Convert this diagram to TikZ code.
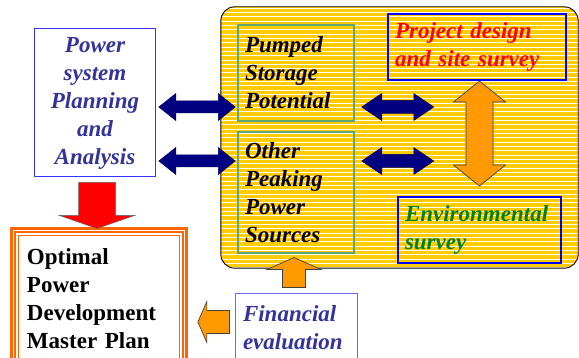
\documentclass[tikz,border=0pt]{standalone}
\usepackage{fontspec}
\setmainfont{Liberation Serif}
\usepackage{tikz}
\usetikzlibrary{calc, positioning}
\definecolor{peakyellow}{RGB}{255,204,0}
\definecolor{boxgreen}{RGB}{95,165,120}
\definecolor{plannavy}{RGB}{51,51,153}
\definecolor{arrownavy}{RGB}{0,0,128}
\definecolor{arroworange}{RGB}{255,153,0}
\definecolor{masterorange}{RGB}{255,102,0}
\definecolor{envgreen}{RGB}{0,128,0}

% block arrow: style, tail, tip, shaft half width, head half width, head length
\newcommand{\fatarrow}[6]{%
  \coordinate (fa-b) at ($(#3)!#6!(#2)$);
  \draw[#1] ($(#2)!#4!90:(#3)$) -- ($(fa-b)!#4!90:(#3)$) -- ($(fa-b)!#5!90:(#3)$) -- (#3)
    -- ($(fa-b)!#5!-90:(#3)$) -- ($(fa-b)!#4!-90:(#3)$) -- ($(#2)!#4!-90:(#3)$) -- cycle;}
% block arrow with two heads
\newcommand{\dblfatarrow}[6]{%
  \coordinate (fa-a) at ($(#2)!#6!(#3)$);
  \coordinate (fa-b) at ($(#3)!#6!(#2)$);
  \draw[#1] (#2) -- ($(fa-a)!#5!90:(#3)$) -- ($(fa-a)!#4!90:(#3)$) -- ($(fa-b)!#4!90:(#3)$)
    -- ($(fa-b)!#5!90:(#3)$) -- (#3) -- ($(fa-b)!#5!-90:(#3)$) -- ($(fa-b)!#4!-90:(#3)$)
    -- ($(fa-a)!#4!-90:(#3)$) -- ($(fa-a)!#5!-90:(#3)$) -- cycle;}

\begin{document}
\begin{tikzpicture}[x=1pt, y=-1pt,
  bigtext/.style={font=\fontsize{23}{28}\selectfont\bfseries\itshape},
  greenbox/.style={bigtext, draw=boxgreen, line width=1.5pt, align=left, inner xsep=7pt},
  bluebox/.style={bigtext, draw=blue, line width=2pt, align=left, inner xsep=7pt},
  navyarrow/.style={fill=arrownavy, draw=arrownavy!70!black, line width=0.5pt},
  orangearrow/.style={fill=arroworange, draw=black!75, line width=0.7pt},
  redarrow/.style={fill=red, draw=black!60, line width=0.5pt}]
\useasboundingbox (0,0) rectangle (579,358);

% peaking block with stripes
\node[fill=peakyellow, rounded corners=14pt, minimum width=357pt, minimum height=261pt] (peak) at (399.5,137.5) {};
\begin{scope}
  \clip[rounded corners=14pt] (peak.north west) rectangle (peak.south east);
  \foreach \i in {0,...,61}
    \draw[white, line width=0.9pt] ({200},{8+4.33*\i}) -- ({590},{8+4.33*\i});
\end{scope}
\draw[black, line width=0.9pt, rounded corners=14pt] (peak.north west) rectangle (peak.south east);

\node[greenbox, text width=102pt, minimum height=96pt] (pumped) at (296,73) {Pumped\\Storage\\Potential};
\node[greenbox, text width=102pt, minimum height=121pt] (other) at (296,192.5) {Other\\Peaking\\Power\\Sources};
\node[bluebox, red, draw=blue, text width=164pt, minimum height=66pt] (project) at (477,47) {Project design\\and site survey};
\node[bluebox, envgreen, draw=blue, text width=149pt, minimum height=66pt] (env) at (479.5,230) {Environmental\\survey};

\node[bigtext, plannavy, draw=blue!80, fill=white, line width=1pt, align=center, text width=114pt, minimum height=148pt] (plan) at (95,103) {Power\\system\\Planning\\and\\Analysis};
\node[bigtext, plannavy, draw=blue!60, fill=white, line width=1pt, align=left, inner xsep=8pt, text width=106pt, minimum height=68pt] (fin) at (296,328) {Financial\\evaluation};

\node[font=\fontsize{23}{28}\selectfont\bfseries, draw=masterorange, double=white, double distance=1.4pt, line width=2.2pt, align=left, inner xsep=13.75pt, text width=144pt, minimum height=136pt] (master) at (99,298.25) {Optimal\\Power\\Development\\Master Plan};
\draw[masterorange, line width=1.2pt] ($(master.north west)+(6.5,6.5)$) rectangle ($(master.south east)+(-6.5,-6.5)$);

% navy exchange arrows
\coordinate (row1) at (0,107);
\coordinate (row2) at (0,161);
\coordinate (l1a) at ($(plan.east |- row1)+(3,0)$);
\coordinate (l1b) at ($(pumped.west |- row1)+(-2,0)$);
\coordinate (l2a) at ($(plan.east |- row2)+(3,0)$);
\coordinate (l2b) at ($(other.west |- row2)+(-2,0)$);
\dblfatarrow{navyarrow}{l1a}{l1b}{6pt}{13.5pt}{17pt}
\dblfatarrow{navyarrow}{l2a}{l2b}{6pt}{13.5pt}{17pt}
\coordinate (m1a) at ($(pumped.east |- row1)+(7,0)$);
\coordinate (m1b) at ($(m1a)+(72,0)$);
\coordinate (m2a) at ($(other.east |- row2)+(7,0)$);
\coordinate (m2b) at ($(m2a)+(72,0)$);
\dblfatarrow{navyarrow}{m1a}{m1b}{6.5pt}{13.5pt}{20pt}
\dblfatarrow{navyarrow}{m2a}{m2b}{6.5pt}{13.5pt}{20pt}

% orange and red arrows
\coordinate (vtop) at ($(env.north |- project.south)+(0,0)$);
\coordinate (vbot) at ($(env.north)+(0,-10)$);
\dblfatarrow{orangearrow}{vtop}{vbot}{13.5pt}{26pt}{21pt}
\coordinate (rtail) at ($(plan.south)+(2,5)$);
\coordinate (rtip) at ($(plan.south)+(2,51)$);
\fatarrow{redarrow}{rtail}{rtip}{18.5pt}{37.5pt}{13pt}
\coordinate (utail) at ($(fin.north)+(-2,-6)$);
\coordinate (utip) at ($(fin.north)+(-2,-36)$);
\fatarrow{orangearrow}{utail}{utip}{11.5pt}{27pt}{12pt}
\coordinate (ltail) at ($(fin.west)+(-5,-6)$);
\coordinate (ltip) at ($(master.east |- ltail)+(12,0)$);
\fatarrow{orangearrow}{ltail}{ltip}{11.5pt}{20.5pt}{9pt}
\end{tikzpicture}
\end{document}
